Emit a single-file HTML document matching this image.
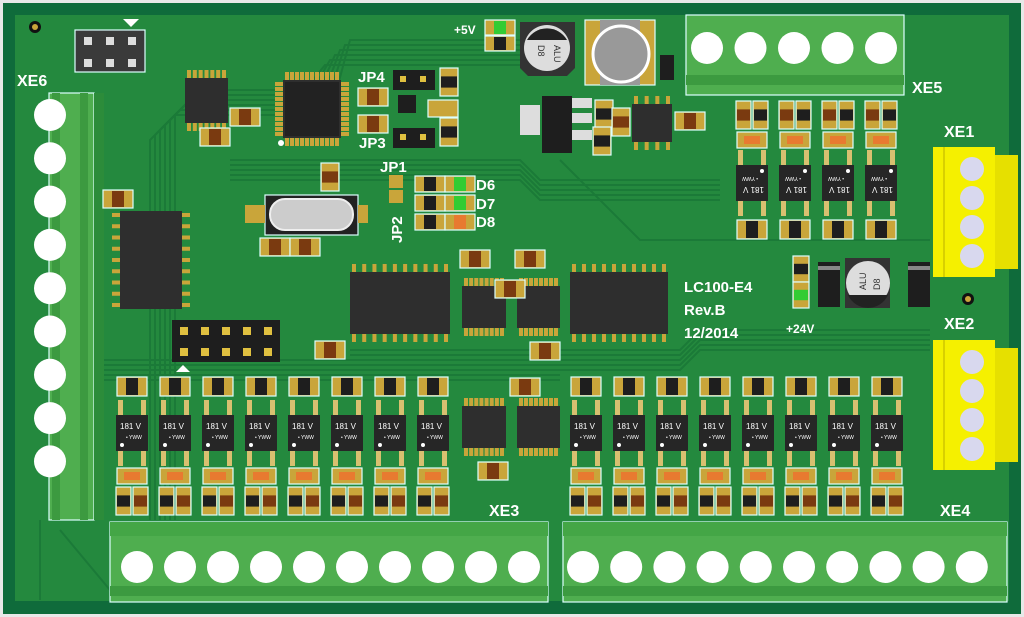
<!DOCTYPE html>
<html><head><meta charset="utf-8"><style>
html,body{margin:0;padding:0;background:#fff;}
svg{display:block;}
text{font-family:"Liberation Sans",sans-serif;font-weight:bold;fill:#fff;}
</style></head><body>
<svg id="s" width="1024" height="617" viewBox="0 0 1024 617" xmlns="http://www.w3.org/2000/svg">
<rect x="0" y="0" width="1024" height="617" fill="#e8e8e8"/>
<rect x="3" y="3" width="1018" height="611" fill="#0f6b3b"/>
<rect x="15" y="15" width="994" height="586" fill="#24893e"/>
<g id="traces" fill="none" stroke="#1b7a38" stroke-width="2"></g>
<g id="parts"></g>
<g id="labels">
<text x="17" y="86" font-size="16">XE6</text>
<text x="912" y="93" font-size="16">XE5</text>
<text x="944" y="137" font-size="16">XE1</text>
<text x="944" y="329" font-size="16">XE2</text>
<text x="489" y="516" font-size="16">XE3</text>
<text x="940" y="516" font-size="16">XE4</text>
<text x="358" y="82" font-size="15">JP4</text>
<text x="359" y="148" font-size="15">JP3</text>
<text x="380" y="172" font-size="15">JP1</text>
<text x="476" y="190" font-size="15">D6</text>
<text x="476" y="209" font-size="15">D7</text>
<text x="476" y="227" font-size="15">D8</text>
<text x="402" y="243" font-size="15" transform="rotate(-90 402 243)">JP2</text>
<text x="454" y="34" font-size="12">+5V</text>
<text x="786" y="333" font-size="12">+24V</text>
<text x="684" y="292" font-size="15">LC100-E4</text>
<text x="684" y="315" font-size="15">Rev.B</text>
<text x="684" y="338" font-size="15">12/2014</text>
</g>
</svg>
<script>
var P=document.getElementById('parts'),T=document.getElementById('traces'),h='',t='';
function R(x,y,w,hh,f,ex){h+='<rect x="'+x+'" y="'+y+'" width="'+w+'" height="'+hh+'" fill="'+f+'" '+(ex||'')+'/>';}
function C(x,y,r,f,ex){h+='<circle cx="'+x+'" cy="'+y+'" r="'+r+'" fill="'+f+'" '+(ex||'')+'/>';}
var W='stroke="#dff" stroke-width="1.2"',G='#c9a53a';
for(var i=0;i<6;i++){t+='<path d="M'+(150+i*5)+' 520 V'+(140-i*5)+' L'+(175+i*5)+' '+(115-i*5)+' H'+(330-i*5)+' L'+(350-i*5)+' '+(40+i*5)+' H520"/>';}
for(var i=0;i<5;i++){t+='<path d="M350 '+(350+i*5)+' H680 L700 '+(330+i*5)+' H930"/>';t+='<path d="M100 '+(360+i*5)+' H560"/>';}
for(var i=0;i<5;i++){t+='<path d="M230 '+(160+i*5)+' H520 L540 '+(180+i*5)+' H720"/>';}
t+='<path d="M40 520 V600"/><path d="M60 530 L110 590"/><path d="M560 160 L640 240 H930"/>';
T.innerHTML=t;
function chip(x,y,w,hh,n,vert){
 var pw=4;
 for(var i=0;i<n;i++){var px=x+4+i*(w-8)/(n-1||1)-pw/2;
  if(!vert){R(px,y-8,pw,hh+16,G);}else{R(x-8,y+4+i*(hh-8)/(n-1)-2,w+16,4,G);}}
 R(x,y,w,hh,'#2e2e2e');
}
function res(x,y,w,hh,body,vert){R(x,y,w,hh,G,W);if(vert)R(x+1,y+hh*0.3,w-2,hh*0.4,body);else R(x+w*0.3,y+1,w*0.4,hh-2,body);}
function opto(cx,cy,flip){
 var y0=cy-69;var s=flip?'<g transform="rotate(180 '+cx+' '+cy+')">':'<g>';
 var old=h;h='';
 res(cx-15,y0,30,19,'#1e1e1e');
 R(cx-14,y0+23,5,16,'#d8c070');R(cx+9,y0+23,5,16,'#d8c070');
 R(cx-14,y0+73,5,16,'#d8c070');R(cx+9,y0+73,5,16,'#d8c070');
 R(cx-16,y0+38,32,36,'#262626');
 h+='<text x="'+(cx-12)+'" y="'+(y0+52)+'" font-size="8" style="font-weight:normal">181 V</text>';
 h+='<text x="'+(cx-6)+'" y="'+(y0+62)+'" font-size="5" style="font-weight:normal">• YWW</text>';
 C(cx-10,y0+68,2,'#fff');
 R(cx-15,y0+91,30,16,G,W);R(cx-8,y0+95,16,8,'#e87a30');
 res(cx-16,y0+110,15,28,'#1e1e1e',1);res(cx+1,y0+110,15,28,'#7a3a10',1);
 var inner=h;h=old+s+inner+'</g>';
}
R(49,93,45,427,'#4fae4f',W);R(52,93,8,427,'#3c9a40');R(80,93,8,427,'#3c9a40');R(94,93,10,427,'#2c8c3a');
for(var i=0;i<9;i++)C(50,115+i*43.3,16,'#fff');
function hblock(x,w,n,x0,dx){R(x,522,w,80,'#4fae4f',W);R(x,522,w,14,'#44a646');R(x,586,w,10,'#3c9a40');for(var i=0;i<n;i++)C(x0+i*dx,567,16,'#fff');}
hblock(110,438,10,137,43);hblock(563,444,10,583,43.2);
R(686,15,218,80,'#4fae4f',W);R(686,75,218,10,'#3c9a40');for(var i=0;i<5;i++)C(707+i*43.5,48,16,'#fff');
function ylw(y){R(933,y,62,130,'#f5f000');R(995,y+8,23,114,'#e6e000');R(943,y,2,130,'#d8d000');for(var i=0;i<4;i++)C(972,y+22+i*29,12,'#d8d8ee');}
ylw(147);ylw(340);
C(35,27,6,'#111');C(35,27,3,G);C(968,299,6,'#111');C(968,299,3,G);
R(75,30,70,42,'#3a3a3a',W);for(var r=0;r<2;r++)for(var c=0;c<3;c++)R(84+c*22,37+r*22,8,8,'#ddd');
h+='<polygon points="123,19 139,19 131,27" fill="#fff"/>';
R(172,320,108,42,'#1e1e1e');for(var r=0;r<2;r++)for(var c=0;c<5;c++)R(180+c*21,327+r*21,8,8,'#e0c040');
h+='<polygon points="176,372 190,372 183,365" fill="#fff"/>';
chip(120,211,62,98,9,1);
chip(185,78,43,45,7);
chip(283,80,58,58,11);chip(283,80,58,58,11,1);R(285,82,54,54,'#222');C(281,143,3,'#fff');
chip(350,272,100,62,10);chip(462,286,44,42,8);chip(517,286,43,42,8);chip(570,272,98,62,10);
chip(462,406,44,42,8);chip(517,406,43,42,8);
chip(632,104,40,38,4);
R(265,195,93,40,'#222',W);R(245,205,20,18,G);R(358,205,10,18,G);
h+='<rect x="270" y="199" width="83" height="31" rx="15" fill="#ccc" stroke="#eee" stroke-width="2"/>';
[[103,190],[200,128],[230,108],[260,238],[290,238],[315,341],[358,88],[358,115],[460,250],[515,250],[530,342],[510,378],[478,462],[495,280],[675,112]].forEach(function(a){res(a[0],a[1],30,18,'#7a3a10');});
res(321,163,18,28,'#7a3a10',1);res(440,68,18,28,'#1e1e1e',1);res(440,118,18,28,'#1e1e1e',1);res(595,100,18,28,'#1e1e1e',1);res(593,127,18,28,'#1e1e1e',1);
res(612,108,18,28,'#7a3a10',1);
R(393,70,42,20,'#1e1e1e');R(400,76,6,6,'#e0c040');R(420,76,6,6,'#e0c040');
R(393,128,42,20,'#1e1e1e');R(400,134,6,6,'#e0c040');R(420,134,6,6,'#e0c040');
R(398,95,18,18,'#1e1e1e');R(428,100,30,17,G,W);
R(389,175,14,13,G);R(389,190,14,13,G);
for(var i=0;i<3;i++){res(415,176+i*19,30,16,'#1e1e1e');res(445,176+i*19,30,16,i<2?'#3c3':'#e87a30');}
res(485,20,30,15,'#3c3');res(485,36,30,15,'#1e1e1e');
res(793,256,16,26,'#1e1e1e',1);res(793,282,16,26,'#3c3',1);
h+='<path d="M520 22 H575 V68 L567 76 H528 L520 68Z" fill="#333"/>';C(547,48,23,'#ddd');h+='<path d="M527 40 A23 23 0 0 1 567 40Z" fill="#222"/>';
h+='<text x="554" y="45" font-size="9" style="fill:#333;font-weight:normal" transform="rotate(90 554 45)">ALU</text>';
h+='<text x="538" y="45" font-size="9" style="fill:#333;font-weight:normal" transform="rotate(90 538 45)">D8</text>';
h+='<path d="M845 258 H890 V308 H845Z" fill="#333"/>';C(868,283,22,'#ddd');h+='<path d="M848 295 A22 22 0 0 0 888 295Z" fill="#222"/>';
h+='<text x="866" y="290" font-size="9" style="fill:#333;font-weight:normal" transform="rotate(-90 866 290)">ALU</text>';
h+='<text x="880" y="290" font-size="9" style="fill:#333;font-weight:normal" transform="rotate(-90 880 290)">D8</text>';
R(585,20,70,65,G,W);R(600,20,40,65,'#999');C(621,54,28,'#999','stroke="#fff" stroke-width="3"');
R(542,96,30,57,'#1e1e1e');R(520,105,20,30,'#ddd');R(572,98,20,10,'#ddd');R(572,113,20,10,'#ddd');R(572,130,20,10,'#ddd');
R(818,262,22,45,'#1e1e1e');R(818,266,22,4,'#888');R(908,262,22,45,'#1e1e1e');R(908,266,22,4,'#888');R(660,55,14,25,'#1e1e1e');
for(var i=0;i<8;i++){opto(132+i*43,446,0);opto(586+i*43,446,0);}
for(var i=0;i<4;i++)opto(752+i*43,170,1);
P.innerHTML=h;
</script>
</body></html>
